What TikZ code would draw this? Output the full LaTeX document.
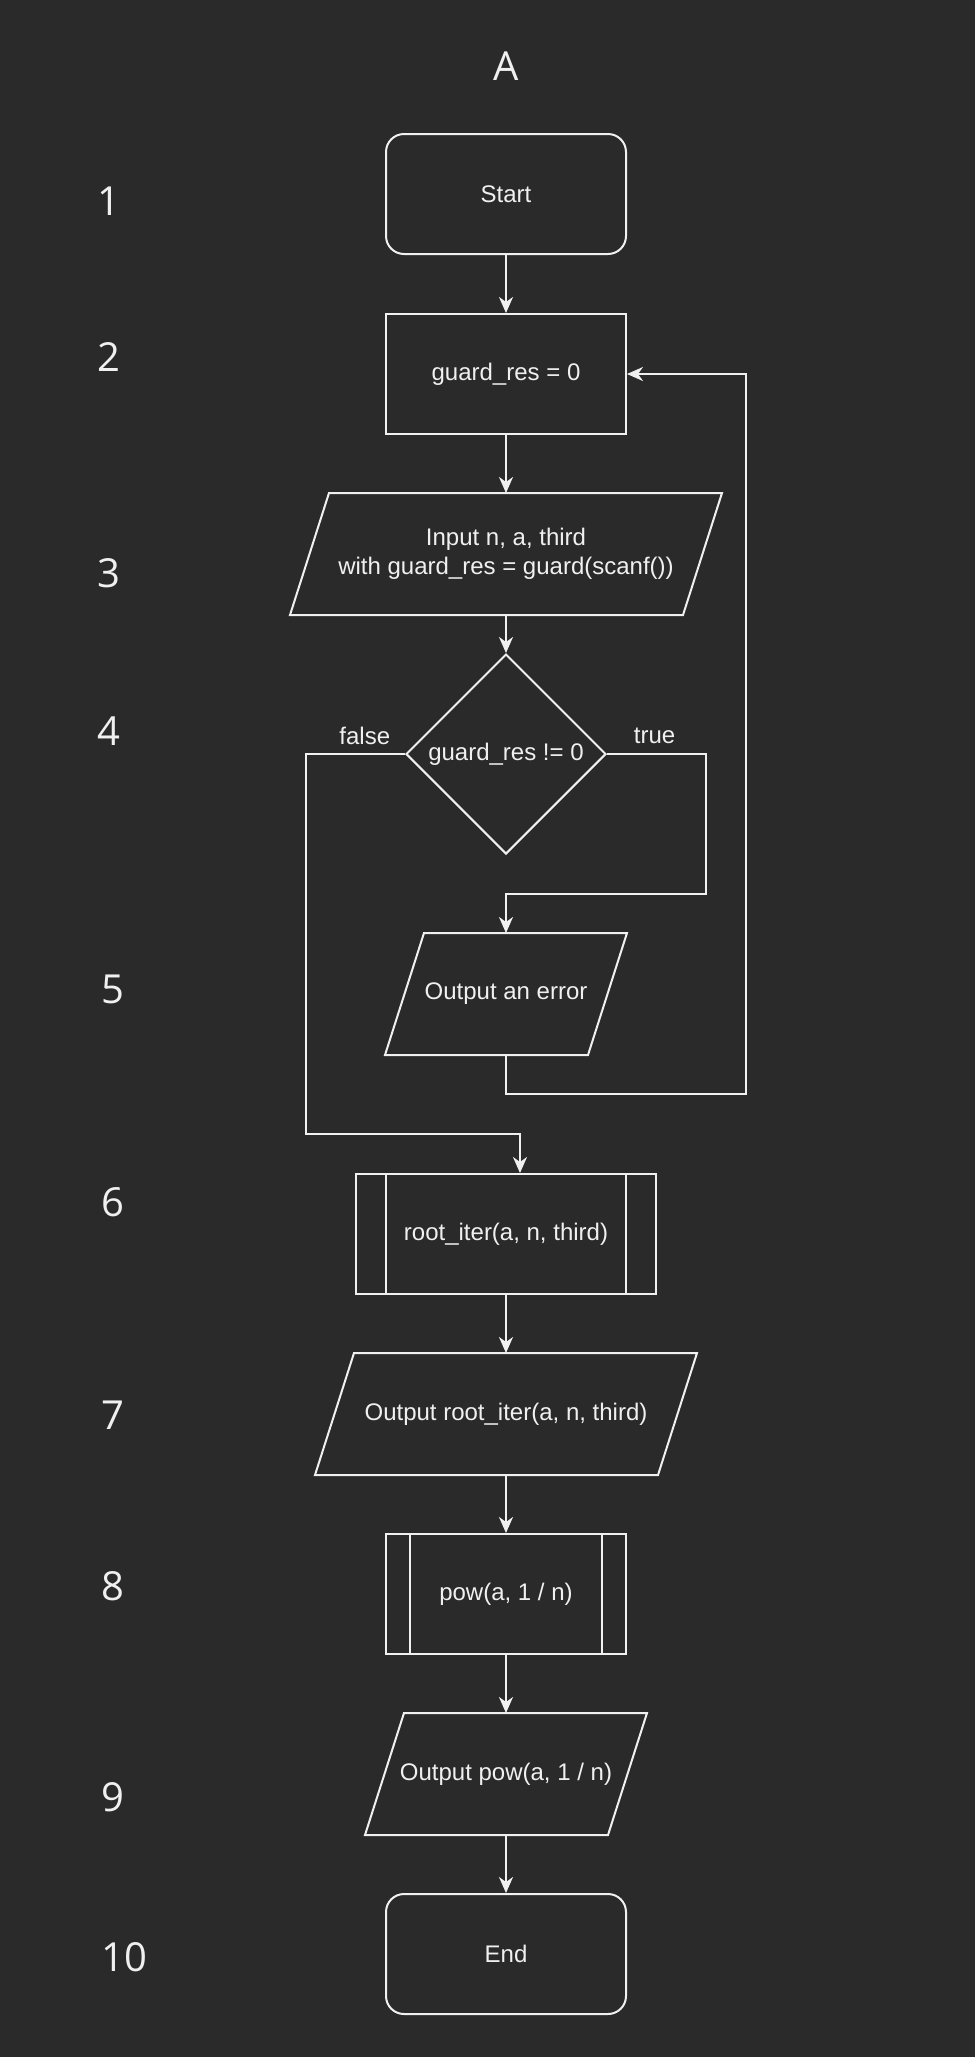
\documentclass[tikz,border=0pt]{standalone}
\usepackage{fontspec}
\setmainfont{Liberation Sans}
\newfontfamily\numfont{Open Sans}
\usetikzlibrary{shapes.geometric,arrows.meta,calc}
\definecolor{bg}{HTML}{2A2A2A}
\definecolor{fg}{HTML}{F0F0F0}
\begin{document}
\begin{tikzpicture}[x=1pt, y=-1pt, line width=1pt,
  base/.style={draw=fg, text=fg, font=\fontsize{12}{14.4}\selectfont, align=center, minimum height=60pt, inner sep=2pt},
  terminal/.style={base, rectangle, rounded corners=9pt, minimum width=120pt},
  procbox/.style={base, rectangle, minimum width=120pt},
  subproc/.style={base, rectangle, path picture={
    \draw[fg, line width=1pt]
      ($(path picture bounding box.north west)!0.1!(path picture bounding box.north east)$) --
      ($(path picture bounding box.south west)!0.1!(path picture bounding box.south east)$)
      ($(path picture bounding box.north west)!0.9!(path picture bounding box.north east)$) --
      ($(path picture bounding box.south west)!0.9!(path picture bounding box.south east)$);}},
  iobox/.style={base, rectangle, draw=none, append after command={\pgfextra{
    \draw[fg, line width=1pt] ([xshift=9.75pt]\tikzlastnode.north west) -- ([xshift=9.75pt]\tikzlastnode.north east)
      -- ([xshift=-9.75pt]\tikzlastnode.south east) -- ([xshift=-9.75pt]\tikzlastnode.south west) -- cycle;}}},
  decision/.style={draw=fg, diamond, minimum width=100pt, minimum height=100pt, inner sep=0pt},
  plaintext/.style={text=fg, font=\fontsize{12}{14.4}\selectfont, inner sep=0pt},
  rowno/.style={text=fg, font=\numfont\fontsize{20}{24}\selectfont, inner sep=0pt},
  arrow/.style={draw=fg, -{Stealth[length=8pt, width=7pt, inset=2.5pt]}}]
\useasboundingbox[fill=bg] (0,0) rectangle (487.5,1028.5);

\node (title) at (253,33) [rowno] {A};
\foreach \n/\x/\y in {1/54.4/100.4, 2/54.4/178.4, 3/54.4/286.7, 4/54.4/365.4, 5/56.4/494.6,
                      6/56.4/600.9, 7/56.4/707.8, 8/56.4/793.1, 9/56.4/898.7, 10/62.3/978.8}
  \node (row\n) at (\x,\y) [rowno] {\n};

\node (start) at (253,97) [terminal] {Start};
\node (guard) at (253,187) [procbox] {guard\_res = 0};
\node (input) at (253,277) [iobox, minimum width=195.5pt] {Input n, a, third\\with guard\_res = guard(scanf())};
\node (check) at (253,377) [decision] {};
\node (checktext) at (check.center) [plaintext] {guard\_res != 0};
\node (err) at (253,497) [iobox, minimum width=100.5pt] {Output an error};
\node (root) at (253,617) [subproc, minimum width=150pt] {root\_iter(a, n, third)};
\node (outroot) at (253,707) [iobox, minimum width=170.5pt] {Output root\_iter(a, n, third)};
\node (pow) at (253,797) [subproc, minimum width=120pt] {pow(a, 1 / n)};
\node (outpow) at (253,887) [iobox, minimum width=120.5pt] {Output pow(a, 1 / n)};
\node (end) at (253,977) [terminal] {End};

\node (falselbl) at (182.4,368) [plaintext] {false};
\node (truelbl) at (327.3,368) [plaintext] {true};

\coordinate (fdown) at (153,567);
\coordinate (tdown) at (353,447);
\coordinate (loopr) at (373,547);

\draw[arrow] (start) -- (guard);
\draw[arrow] (guard) -- (input);
\draw[arrow] (input) -- (check);
\draw[arrow] (check.east) -| (tdown) -| (err.north);
\draw[arrow] (err.south) |- (loopr) |- (guard.east);
\draw[arrow] (check.west) -| (fdown) -| ([xshift=7pt]root.north);
\draw[arrow] (root) -- (outroot);
\draw[arrow] (outroot) -- (pow);
\draw[arrow] (pow) -- (outpow);
\draw[arrow] (outpow) -- (end);
\end{tikzpicture}
\end{document}
